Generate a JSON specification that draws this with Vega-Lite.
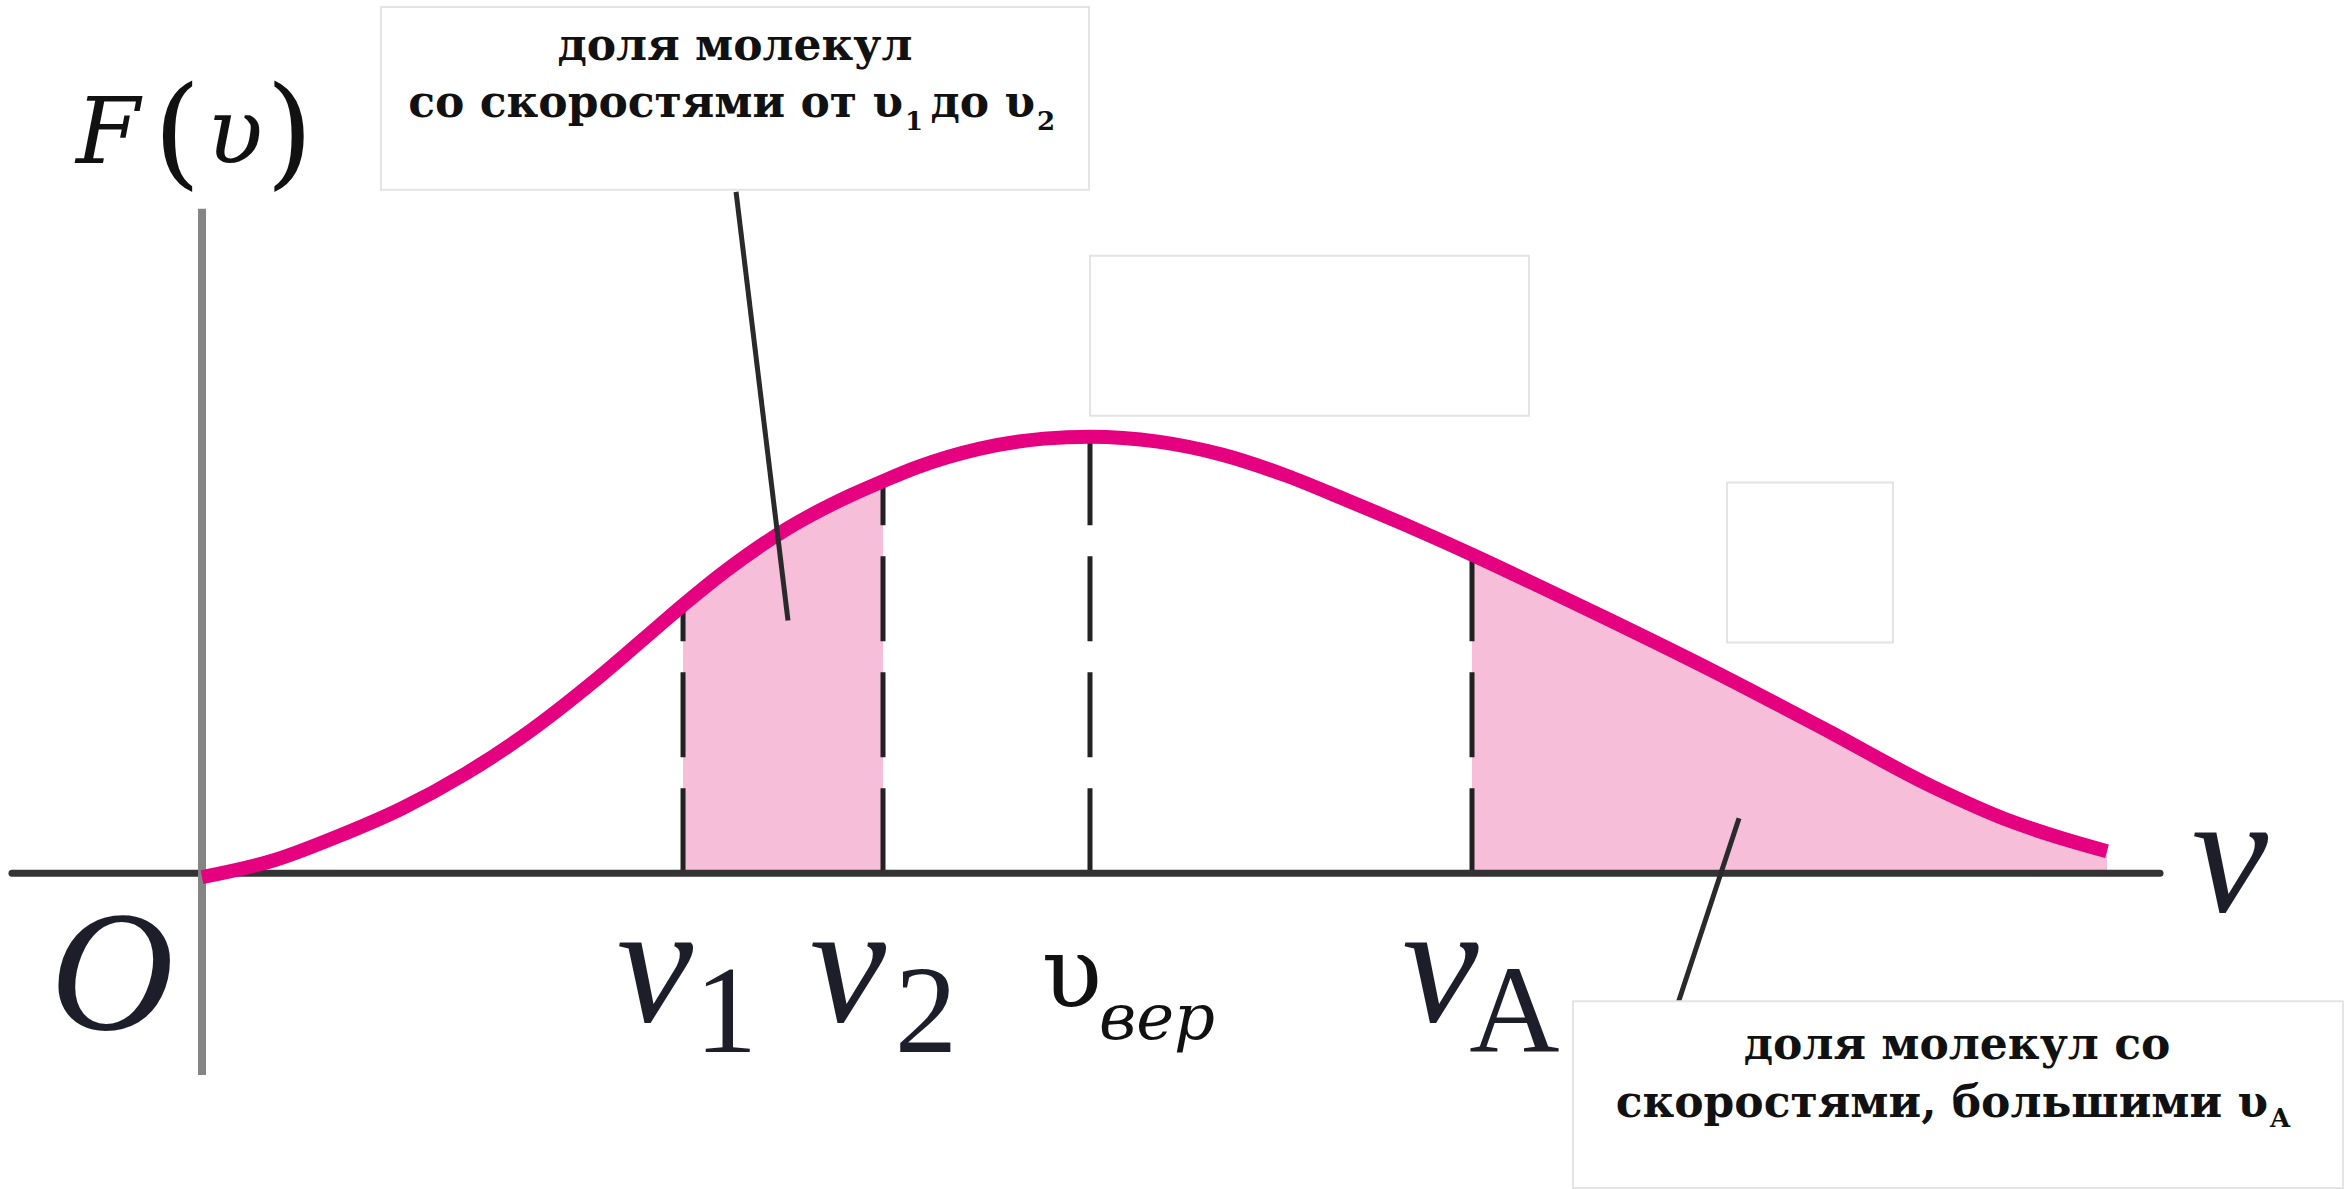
{
  "$schema": "https://vega.github.io/schema/vega-lite/v6.json",
  "width": 2344,
  "height": 1189,
  "autosize": {"type": "fit", "contains": "padding"},
  "padding": 0,
  "background": "white",
  "config": {"view": {"stroke": null}, "text": {"font": "DejaVu Serif"}},
  "datasets": {
    "curve": [
      {"v": 0.0, "F": -0.009},
      {"v": 0.0811, "F": 0.0297},
      {"v": 0.1532, "F": 0.0847},
      {"v": 0.2252, "F": 0.1487},
      {"v": 0.2973, "F": 0.2288},
      {"v": 0.3705, "F": 0.3272},
      {"v": 0.4426, "F": 0.4416},
      {"v": 0.5146, "F": 0.567},
      {"v": 0.5417, "F": 0.614},
      {"v": 0.5867, "F": 0.688},
      {"v": 0.6588, "F": 0.789},
      {"v": 0.7309, "F": 0.866},
      {"v": 0.7669, "F": 0.898},
      {"v": 0.8041, "F": 0.929},
      {"v": 0.8761, "F": 0.9725},
      {"v": 0.9482, "F": 0.9954},
      {"v": 1.0, "F": 1.0},
      {"v": 1.0766, "F": 0.9886},
      {"v": 1.1486, "F": 0.9588},
      {"v": 1.2207, "F": 0.911},
      {"v": 1.2928, "F": 0.8513},
      {"v": 1.3649, "F": 0.7895},
      {"v": 1.4302, "F": 0.73},
      {"v": 1.509, "F": 0.6545},
      {"v": 1.5833, "F": 0.582},
      {"v": 1.7038, "F": 0.461},
      {"v": 1.8255, "F": 0.332},
      {"v": 1.9471, "F": 0.2},
      {"v": 2.0372, "F": 0.119},
      {"v": 2.098, "F": 0.0778},
      {"v": 2.1453, "F": 0.0503}
    ],
    "speeds": [
      {"name": "v1", "v": 0.5417, "F": 0.614},
      {"name": "v2", "v": 0.7669, "F": 0.898},
      {"name": "vвер", "v": 1.0, "F": 1.0},
      {"name": "vA", "v": 1.4302, "F": 0.73}
    ]
  },
  "encoding": {
    "x": {"field": "v", "type": "quantitative", "scale": {"domain": [-0.2275, 2.4122], "nice": false, "zero": false}, "axis": null},
    "y": {"field": "F", "type": "quantitative", "scale": {"domain": [-0.7208, 2.0], "nice": false, "zero": false}, "axis": null}
  },
  "layer": [
    {
      "data": {"name": "curve"},
      "transform": [{"filter": "datum.v >= 0.5417 && datum.v <= 0.7669"}],
      "mark": {"type": "area", "color": "#f6bed8", "interpolate": "monotone"},
      "encoding": {"y2": {"datum": 0}}
    },
    {
      "data": {"name": "curve"},
      "transform": [{"filter": "datum.v >= 1.4302"}],
      "mark": {"type": "area", "color": "#f6bed8", "interpolate": "monotone"},
      "encoding": {"y2": {"datum": 0}}
    },
    {
      "data": {"name": "speeds"},
      "mark": {"type": "rule", "color": "#222222", "strokeWidth": 5, "strokeDash": [85, 31]},
      "encoding": {"y": {"datum": 0}, "y2": {"field": "F"}}
    },
    {
      "data": {"values": [{"v": -0.214, "v2": 2.205, "F": 0}]},
      "mark": {"type": "rule", "color": "#333333", "strokeWidth": 7, "strokeCap": "round"},
      "encoding": {"x2": {"field": "v2"}}
    },
    {
      "data": {"values": [{"v": 0, "F": 1.5217, "F2": -0.4622}]},
      "mark": {"type": "rule", "color": "#858585", "strokeWidth": 8},
      "encoding": {"y2": {"field": "F2"}}
    },
    {
      "data": {"name": "curve"},
      "mark": {"type": "line", "color": "#e4007f", "strokeWidth": 14, "interpolate": "monotone"}
    },
    {
      "data": {"values": [
        {"v": 0.6014, "F": 1.5606, "v2": 0.6599, "F2": 0.5789},
        {"v": 1.7309, "F": 0.1259, "v2": 1.6622, "F2": -0.2975}
      ]},
      "mark": {"type": "rule", "color": "#2a2a2a", "strokeWidth": 5},
      "encoding": {"x2": {"field": "v2"}, "y2": {"field": "F2"}}
    },
    {
      "data": {"values": [
        {"v": 0.2016, "v2": 0.9989, "F": 1.984, "F2": 1.5652},
        {"v": 1.0, "v2": 1.4944, "F": 1.4142, "F2": 1.0481},
        {"v": 1.7174, "v2": 1.9043, "F": 0.8947, "F2": 0.5286},
        {"v": 1.5439, "v2": 2.411, "F": -0.2929, "F2": -0.7208}
      ]},
      "mark": {"type": "rect", "fill": "white", "stroke": "#e4e4e4", "strokeWidth": 2},
      "encoding": {"x2": {"field": "v2"}, "y2": {"field": "F2"}}
    },
    {
      "data": {"values": [
        {"v": 0.6002, "F": 1.8627, "t": "доля молекул"},
        {"v": 1.9764, "F": -0.4256, "t": "доля молекул со"}
      ]},
      "mark": {"type": "text", "fontWeight": "bold", "fontSize": 44, "align": "center", "baseline": "alphabetic", "color": "#111111"},
      "encoding": {"text": {"field": "t"}}
    },
    {
      "data": {"values": [
        {"v": 0.7894, "F": 1.7323, "t": "со скоростями от υ"},
        {"v": 0.9381, "F": 1.7323, "t": "до υ"},
        {"v": 2.3266, "F": -0.5584, "t": "скоростями, большими υ"}
      ]},
      "mark": {"type": "text", "fontWeight": "bold", "fontSize": 44, "align": "right", "baseline": "alphabetic", "color": "#111111"},
      "encoding": {"text": {"field": "t"}}
    },
    {
      "data": {"values": [
        {"v": 0.7917, "F": 1.7025, "t": "1"},
        {"v": 0.9403, "F": 1.7025, "t": "2"},
        {"v": 2.3288, "F": -0.5812, "t": "A"}
      ]},
      "mark": {"type": "text", "fontWeight": "bold", "fontSize": 26, "align": "left", "baseline": "alphabetic", "color": "#111111"},
      "encoding": {"text": {"field": "t"}}
    },
    {
      "data": {"values": [
        {"v": -0.1014, "F": -0.357, "t": "O"},
        {"v": 0.5101, "F": -0.3387, "t": "v"},
        {"v": 0.7275, "F": -0.3387, "t": "v"},
        {"v": 1.3945, "F": -0.3387, "t": "v"},
        {"v": 2.2838, "F": -0.087, "t": "v"}
      ]},
      "mark": {"type": "text", "font": "Liberation Serif", "fontStyle": "italic", "fontSize": 172, "align": "center", "baseline": "alphabetic", "color": "#1e1e2a"},
      "encoding": {"text": {"field": "t"}}
    },
    {
      "data": {"values": [
        {"v": 0.5901, "F": -0.4096, "t": "1"},
        {"v": 0.8153, "F": -0.4096, "t": "2"},
        {"v": 1.478, "F": -0.4096, "t": "A"}
      ]},
      "mark": {"type": "text", "font": "Liberation Serif", "fontSize": 125, "align": "center", "baseline": "alphabetic", "color": "#1e1e2a"},
      "encoding": {"text": {"field": "t"}}
    },
    {
      "data": {"values": [
        {"v": -0.1059, "F": 1.627, "t": "F"},
        {"v": 0.0372, "F": 1.627, "t": "υ"}
      ]},
      "mark": {"type": "text", "fontStyle": "italic", "fontSize": 92, "align": "center", "baseline": "alphabetic", "color": "#111111"},
      "encoding": {"text": {"field": "t"}}
    },
    {
      "data": {"values": [
        {"v": -0.0282, "F": 1.6041, "t": "("},
        {"v": 0.0985, "F": 1.6041, "t": ")"}
      ]},
      "mark": {"type": "text", "fontSize": 122, "align": "center", "baseline": "alphabetic", "color": "#111111"},
      "encoding": {"text": {"field": "t"}}
    },
    {
      "data": {"values": [{"v": 0.9797, "F": -0.3066, "t": "υ"}]},
      "mark": {"type": "text", "fontSize": 100, "align": "center", "baseline": "alphabetic", "color": "#111111"},
      "encoding": {"text": {"field": "t"}}
    },
    {
      "data": {"values": [{"v": 1.0755, "F": -0.3799, "t": "вер"}]},
      "mark": {"type": "text", "fontStyle": "italic", "fontSize": 64, "align": "center", "baseline": "alphabetic", "color": "#111111"},
      "encoding": {"text": {"field": "t"}}
    }
  ]
}
